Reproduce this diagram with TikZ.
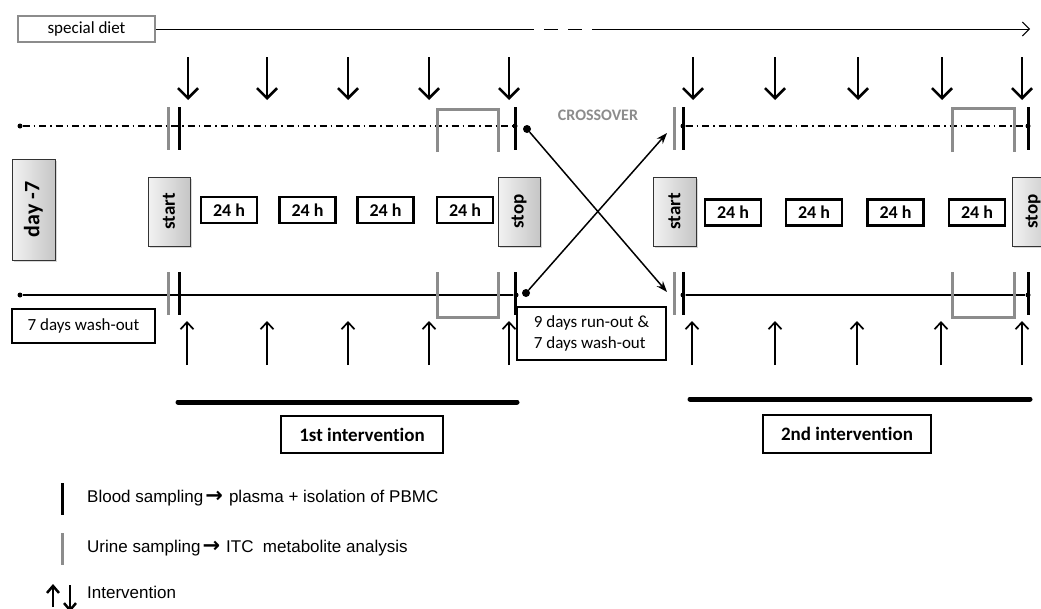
\documentclass[tikz,border=0pt]{standalone}
\usepackage{fontspec}
\setmainfont{Carlito}[Ligatures=NoCommon]
\newfontfamily\legendfont{Liberation Sans}
\newfontfamily\arrowfont{DejaVu Sans}
\usetikzlibrary{arrows.meta}
\usetikzlibrary{shadows}

\newcommand{\legarrow}{\hspace{2pt}{\arrowfont\bfseries\fontsize{21}{20}\selectfont →}\hspace{6pt}}

\begin{document}
\begin{tikzpicture}[x=1pt,y=-1pt,
    greybox/.style={draw=black!80, line width=0.8pt, left color=gray!10, right color=gray!45,
      drop shadow={opacity=0.3, shadow xshift=2pt, shadow yshift=-2pt},
      rotate=90, inner sep=0pt, font=\fontsize{19}{22}\selectfont\bfseries},
    hourbox/.style={draw, line width=2.2pt, minimum width=56pt, minimum height=26pt, inner sep=0pt,
      font=\fontsize{18}{20}\selectfont\bfseries},
    notebox/.style={draw, line width=2pt, inner sep=0pt, font=\fontsize{17}{21}\selectfont},
    phasebox/.style={draw, line width=2.4pt, inner sep=0pt, font=\fontsize{19}{22}\selectfont\bfseries},
    blood/.style={line width=3pt, black},
    urine/.style={line width=3pt, black!45},
    dashdot/.style={line width=1.3pt, dash pattern=on 7pt off 4pt on 1.5pt off 4pt},
    dot/.style={circle, fill, inner sep=0pt, minimum size=5pt},
    bigdot/.style={circle, fill, inner sep=0pt, minimum size=8pt},
    downarr/.style={line width=2.6pt, -{Straight Barb[length=10pt, width=20pt]}},
    uparr/.style={line width=1.7pt, -{Straight Barb[length=7pt, width=13pt]}},
    phasebar/.style={line width=5pt, line cap=round},
    legend/.style={anchor=west, inner sep=0pt, font=\legendfont\fontsize{17}{20}\selectfont}]

  \clip (0,0) rectangle (1041,608);
  \fill[white] (0,0) rectangle (1041,608);

  % special diet line
  \node[draw=black!45, line width=1.5pt, minimum width=137pt, minimum height=26pt, inner sep=0pt,
        font=\fontsize{17}{20}\selectfont] (diet) at (86.5,29) {special diet};
  \coordinate (gapa) at (520,29);
  \coordinate (gapb) at (598,29);
  \coordinate (dietend) at (1030,29);
  \draw[line width=1pt] (diet.east) -- (gapa);
  \draw[line width=1pt, dash pattern=on 14pt off 10pt] (gapa) -- (gapb);
  \draw[line width=1pt, -{Straight Barb[length=7pt, width=14pt]}] (gapb) -- (dietend);

  % sampling times
  \foreach \x in {188,267,348,429,509,693,775,858,942,1022}
    \draw[downarr] (\x,57) -- (\x,100);
  \foreach \x in {187,267,348,429,509,692,775,857,941,1022}
    \draw[uparr] (\x,365) -- (\x,321);

  % time lines
  \node[dot] (ua) at (20,126) {};
  \node[dot] (ub) at (515,126) {};
  \node[dot] (uc) at (683,126) {};
  \node[dot] (ud) at (1028,126) {};
  \node[dot] (la) at (20,295) {};
  \node[dot] (lb) at (516,295) {};
  \node[dot] (lc) at (683,295) {};
  \node[dot] (ld) at (1028,295) {};
  \draw[dashdot] (ua) -- (ub);
  \draw[dashdot] (uc) -- (ud);
  \draw[line width=1.3pt] (la) -- (lb);
  \draw[line width=1.3pt] (lc) -- (ld);

  % blood and urine marks
  \foreach \x in {179,515,683,1028} {
    \draw[blood] (\x,107) -- (\x,150);
    \draw[blood] (\x,272) -- (\x,315);
  }
  \foreach \x in {168,674} {
    \draw[urine] (\x,107) -- (\x,150);
    \draw[urine] (\x,272) -- (\x,315);
  }
  \draw[urine] (437,152) -- (437,109) -- (498,109) -- (498,152);
  \draw[urine] (437,272) -- (437,317) -- (498,317) -- (498,272);
  \draw[urine] (952,152) -- (952,108) -- (1014,108) -- (1014,152);
  \draw[urine] (952,272) -- (952,317) -- (1014,317) -- (1014,272);

  % days
  \node[greybox, minimum width=101pt, minimum height=43pt, font=\fontsize{22}{24}\selectfont\bfseries]
    (pre) at (33.5,209.5) {day -7};
  \node[greybox, minimum width=69pt, minimum height=42pt] (starta) at (169,211.5) {start};
  \node[greybox, minimum width=69pt, minimum height=42pt] (stopa) at (519,211.5) {stop};
  \node[greybox, minimum width=69pt, minimum height=43pt] (startb) at (674.5,211.5) {start};
  \node[greybox, minimum width=69pt, minimum height=42pt] (stopb) at (1033,211.5) {stop};

  \foreach \x in {229,307.5,385.5,465}
    \node[hourbox] at (\x,210) {24 h};
  \foreach \x in {733,814,895.5,977}
    \node[hourbox] at (\x,212.5) {24 h};

  % wash-out
  \node[notebox, minimum width=143pt, minimum height=34pt] (washa) at (83.5,326) {7 days wash-out};
  \node[notebox, minimum width=149pt, minimum height=53pt, align=left] (washb) at (591.5,333)
    {9 days run-out \&\\7 days wash-out};

  % crossover
  \node[bigdot] (xa) at (527,129) {};
  \node[bigdot] (xb) at (526,293) {};
  \coordinate (ya) at (667,292);
  \coordinate (yb) at (667,133);
  \draw[line width=1.5pt, -{Stealth[length=11pt, width=8pt]}] (xa) -- (ya);
  \draw[line width=1.5pt, -{Stealth[length=11pt, width=8pt]}] (xb) -- (yb);
  \node[text=black!45, font=\fontsize{16}{18}\selectfont\bfseries] (cross) at (598,115) {CROSSOVER};

  % interventions
  \coordinate (ia) at (178,402);
  \coordinate (ib) at (517,402);
  \coordinate (ic) at (690,399);
  \coordinate (id) at (1030,399);
  \draw[phasebar] (ia) -- (ib);
  \draw[phasebar] (ic) -- (id);
  \node[phasebox, minimum width=162pt, minimum height=37pt] (first) at (362,434.5) {1st intervention};
  \node[phasebox, minimum width=168pt, minimum height=38pt] (second) at (847,434) {2nd intervention};

  % legend
  \draw[blood] (62,483) -- (62,515);
  \node[legend] (lblood) at (87,498) {Blood sampling\legarrow plasma + isolation of PBMC};
  \draw[urine] (62,533) -- (62,565);
  \node[legend] (lurine) at (87,548) {Urine sampling\legarrow ITC\ \ metabolite analysis};
  \draw[line width=2.5pt, -{Straight Barb[length=7pt, width=12pt]}] (53,607) -- (53,584);
  \draw[line width=2.5pt, -{Straight Barb[length=7pt, width=12pt]}] (70,585) -- (70,612);
  \node[legend] (lint) at (87,592) {Intervention};
\end{tikzpicture}
\end{document}
